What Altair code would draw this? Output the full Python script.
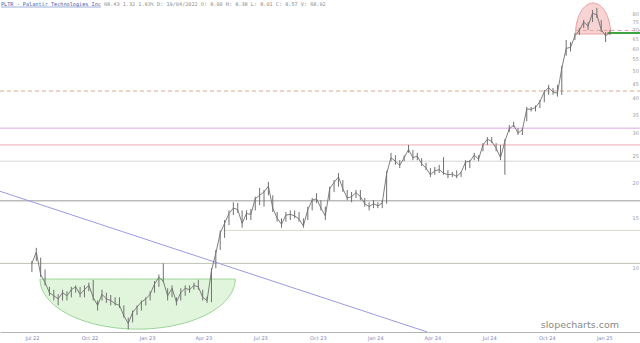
import altair as alt
import numpy as np
import pandas as pd

# ---------------- data ----------------
start_date = "2022-07-01"          # first weekly bar
n_weeks = 133

highs = [10.5, 11.7, 10.8, 9.8, 8.5, 8.3, 8.0, 8.3, 8.2, 8.5,
         8.6, 8.5, 8.6, 8.8, 9.0, 7.6, 8.3, 8.1, 7.95, 7.8,
         7.8, 7.3, 6.6, 7.0, 7.3, 7.6, 7.8, 8.2, 8.9, 9.4,
         10.3, 8.4, 8.6, 7.8, 8.4, 8.6, 8.6, 8.8, 9.0, 8.3,
         7.85, 9.9, 11.5, 13.5, 14.7, 15.9, 17.0, 16.9, 15.9, 15.9,
         16.1, 17.8, 19.1, 18.8, 20.1, 18.0, 15.7, 14.9, 15.7, 15.9,
         15.9, 15.7, 14.9, 16.4, 17.6, 18.3, 17.3, 16.4, 19.3, 20.4,
         21.6, 20.4, 18.8, 18.5, 18.8, 18.8, 17.6, 17.0, 17.3, 17.0,
         17.3, 22.0, 25.5, 25.0, 24.0, 25.0, 27.2, 26.1, 25.5, 24.4,
         23.5, 22.5, 22.7, 23.1, 24.6, 22.1, 21.8, 22.1, 21.8, 24.0,
         24.0, 25.5, 25.0, 27.6, 29.0, 29.0, 27.6, 27.2, 28.5, 32.0,
         32.9, 31.2, 31.2, 37.1, 37.1, 37.6, 39.3, 42.7, 44.5, 43.4,
         44.5, 52.0, 64.3, 63.2, 68.1, 70.9, 75.7, 74.5, 82.2, 83.6,
         75.7, 68.6, 69.8]

lows = [9.6, 10.5, 9.2, 8.6, 7.9, 7.6, 7.3, 7.6, 7.6, 7.8,
        8.1, 7.8, 7.8, 8.2, 7.6, 7.0, 7.6, 7.45, 7.3, 7.3,
        7.15, 6.6, 6.0, 6.35, 6.75, 7.0, 7.3, 7.6, 8.1, 8.5,
        8.8, 7.6, 7.8, 7.3, 7.6, 7.9, 8.1, 8.3, 8.3, 7.6,
        7.45, 7.5, 9.9, 11.5, 12.7, 14.1, 15.3, 15.6, 13.8, 14.7,
        14.7, 15.9, 16.6, 16.4, 18.0, 15.7, 14.5, 13.8, 14.5, 14.7,
        14.9, 14.5, 13.8, 14.7, 15.9, 16.9, 15.9, 14.7, 17.3, 18.5,
        19.3, 18.5, 17.3, 17.0, 17.6, 17.3, 16.4, 15.9, 16.2, 16.2,
        16.2, 16.8, 23.8, 23.1, 22.5, 23.8, 25.5, 24.0, 24.0, 22.9,
        22.1, 20.9, 21.3, 21.6, 21.3, 20.7, 20.9, 20.7, 20.9, 22.1,
        22.5, 24.0, 23.8, 25.8, 27.2, 27.6, 25.8, 24.0, 21.3, 30.2,
        31.5, 29.5, 29.5, 33.0, 35.8, 35.8, 36.8, 38.6, 41.0, 41.0,
        40.4, 41.0, 56.5, 58.5, 64.3, 67.0, 70.9, 69.8, 74.5, 77.0,
        68.6, 63.2, 67.0]

closes = [10.3, 11.3, 9.4, 8.8, 8.1, 7.9, 7.7, 8.1, 7.9, 8.3,
          8.5, 8.0, 8.3, 8.6, 7.8, 7.3, 8.0, 7.7, 7.6, 7.4,
          7.3, 6.7, 6.3, 6.9, 7.2, 7.5, 7.7, 8.0, 8.7, 9.2,
          8.9, 7.9, 8.4, 7.5, 8.1, 8.4, 8.3, 8.6, 8.5, 7.8,
          7.6, 9.7, 11.2, 13.2, 14.3, 15.5, 16.2, 16.0, 14.3, 15.5,
          15.4, 17.5, 18.0, 18.5, 19.4, 16.2, 14.9, 14.2, 15.3, 15.4,
          15.2, 14.8, 14.0, 16.0, 17.3, 17.5, 16.2, 15.2, 19.0, 20.0,
          20.9, 19.0, 17.6, 17.8, 18.4, 17.8, 16.8, 16.4, 16.8, 16.5,
          16.9, 21.5, 24.5, 23.8, 23.0, 24.5, 26.2, 24.5, 24.8, 23.3,
          22.5, 21.3, 22.0, 22.2, 21.6, 21.3, 21.4, 21.0, 21.7, 23.6,
          23.8, 25.0, 24.2, 27.2, 28.5, 28.0, 26.5, 24.5, 28.0, 31.0,
          32.0, 30.0, 30.8, 36.5, 36.4, 37.0, 38.8, 42.0, 43.5, 42.0,
          41.5, 51.0, 60.0, 60.5, 66.5, 69.5, 74.5, 72.0, 80.0, 79.0,
          70.0, 66.5, 68.4]

# x-axis ticks
tick_dates = ["2022-07-01", "2022-10-01", "2023-01-01", "2023-04-01", "2023-07-01",
              "2023-10-01", "2024-01-01", "2024-04-01", "2024-07-01", "2024-10-01",
              "2025-01-01"]
tick_labels = ["Jul 22", "Oct 22", "Jan 23", "Apr 23", "Jul 23", "Oct 23",
               "Jan 24", "Apr 24", "Jul 24", "Oct 24", "Jan 25"]
price_ticks = [10, 15, 20, 25, 30, 35, 40, 45, 50, 55, 60, 65, 70, 75, 80]

x_range_dates = ["2022-05-11", "2025-02-27"]
y_range = [5.87, 89.2]

# horizontal levels: price, start date (None = full width), colour, dashed, width
level_prices = [42.3, 31.2, 27.2, 23.8, 17.2, 13.5, 10.3, 69.5, 68.1]
level_starts = [None, None, None, None, None, "2023-05-03", None, "2024-11-16", "2025-01-06"]
level_colors = ["#d8a894", "#dcaae6", "#eeacb4", "#d6d6d6", "#9a9a9a", "#d4dccf", "#bcc2b2",
                "#e8a0a0", "#3fa33f"]
level_dashed = [True, False, False, False, False, False, False, True, False]
level_widths = [1, 1, 1, 1, 1, 1, 1, 1, 2]

# trend line (two anchor points)
trend_dates = ["2022-05-11", "2024-03-24"]
trend_prices = [18.6, 5.87]

# ellipses: left date, right date, flat-edge price, far-edge price
green_ellipse = ("2022-07-14", "2023-05-22", 9.06, 6.01)
red_ellipse = ("2024-11-16", "2025-01-11", 67.5, 87.0)

title_main = "PLTR - Palantir Technologies Inc"
title_rest = "68.43  1.32  1.93%  D: 19/04/2022  O:  8.00  H:  8.38  L:  8.01  C:  8.57  V: 68.92"
watermark = "slopecharts.com"

# ---------------- build tables ----------------
origin = pd.Timestamp(start_date)


def day(s):
    return (pd.Timestamp(s) - origin).days


weeks = pd.date_range(start_date, periods=n_weeks, freq="7D")
df = pd.DataFrame({"day": [(d - origin).days for d in weeks],
                   "high": highs, "low": lows, "close": closes})

xmin, xmax = day(x_range_dates[0]), day(x_range_dates[1])
tick_days = [day(d) for d in tick_dates]
label_expr = " : ".join(f"datum.value == {d} ? '{l}'" for d, l in zip(tick_days, tick_labels)) + " : ''"

x_scale = alt.Scale(domain=[xmin, xmax], nice=False, zero=False)
y_scale = alt.Scale(type="log", domain=y_range, nice=False)

x_axis = alt.Axis(values=tick_days, labelExpr=label_expr, ticks=False, grid=False,
                  domainColor="#b4b4b4", domainWidth=1, labelFontSize=5, labelColor="#8484b8",
                  labelPadding=3, labelFont="DejaVu Sans", title=None)
y_axis = alt.Axis(orient="right", values=price_ticks, offset=-10, domain=False, ticks=False,
                  grid=False, labelFontSize=5, labelColor="#9a9a9a", labelPadding=2,
                  labelFont="DejaVu Sans", labelAlign="left", title=None)


def ellipse_df(spec):
    left, right, flat, far = spec
    d0, d1 = day(left), day(right)
    c, a = (d0 + d1) / 2, (d1 - d0) / 2
    t = np.linspace(0, np.pi, 80)
    lf, lr = np.log(flat), np.log(far)
    return pd.DataFrame({"day": c - a * np.cos(t),
                         "p": np.exp(lf + (lr - lf) * np.sin(t)),
                         "flat": flat})


g_df = ellipse_df(green_ellipse)
r_df = ellipse_df(red_ellipse)

green = alt.Chart(g_df).mark_area(fill="#dcf3d6", fillOpacity=0.85, stroke="#9ad496",
                                  strokeWidth=1).encode(
    x=alt.X("day:Q", scale=x_scale, axis=x_axis),
    y=alt.Y("p:Q", scale=y_scale, axis=y_axis),
    y2="flat:Q")
red = alt.Chart(r_df).mark_area(fill="#f6c8c8", fillOpacity=0.8, stroke="#e69a9a",
                                strokeWidth=1).encode(
    x=alt.X("day:Q", scale=x_scale), y=alt.Y("p:Q", scale=y_scale), y2="flat:Q")

level_layers = []
for p, s, c, dsh, w in zip(level_prices, level_starts, level_colors, level_dashed, level_widths):
    ldf = pd.DataFrame({"p": [p], "d0": [day(s) if s else xmin], "d1": [xmax]})
    kw = dict(color=c, strokeWidth=w)
    if dsh:
        kw["strokeDash"] = [4, 3]
    level_layers.append(alt.Chart(ldf).mark_rule(**kw).encode(
        x=alt.X("d0:Q", scale=x_scale), x2="d1:Q", y=alt.Y("p:Q", scale=y_scale)))

tdf = pd.DataFrame({"day": [day(d) for d in trend_dates], "p": trend_prices})
trend = alt.Chart(tdf).mark_line(color="#9a9ae4", strokeWidth=1, clip=True).encode(
    x=alt.X("day:Q", scale=x_scale), y=alt.Y("p:Q", scale=y_scale))

bars = alt.Chart(df).mark_rule(color="#707070", strokeWidth=1).encode(
    x=alt.X("day:Q", scale=x_scale), y=alt.Y("low:Q", scale=y_scale), y2="high:Q")
close_line = alt.Chart(df).mark_line(color="#707070", strokeWidth=0.9).encode(
    x=alt.X("day:Q", scale=x_scale), y=alt.Y("close:Q", scale=y_scale))

t1 = alt.Chart(pd.DataFrame({"t": [title_main]})).mark_text(
    align="left", baseline="middle", fontSize=5.2, font="DejaVu Sans Mono", color="#3a5cb0").encode(
    x=alt.value(1), y=alt.value(4), text="t:N")
t1u = alt.Chart(pd.DataFrame({"t": [title_main]})).mark_rule(color="#3a5cb0", strokeWidth=0.5).encode(
    x=alt.value(1), x2=alt.value(101), y=alt.value(7))
t2 = alt.Chart(pd.DataFrame({"t": [title_rest]})).mark_text(
    align="left", baseline="middle", fontSize=5.2, font="DejaVu Sans Mono", color="#8a8a8a").encode(
    x=alt.value(104), y=alt.value(4), text="t:N")
wm = alt.Chart(pd.DataFrame({"t": [watermark]})).mark_text(
    align="right", baseline="alphabetic", fontSize=9.5, font="DejaVu Sans", color="#8a8a8a").encode(
    x=alt.value(619), y=alt.value(328), text="t:N")

chart = alt.layer(green, red, *level_layers, trend, bars, close_line, t1, t1u, t2, wm).properties(
    width=640, height=332,
    autosize=alt.AutoSizeParams(type="none"),
    padding={"left": 0, "top": 0, "right": 0, "bottom": 11},
    background="white",
).configure_view(stroke=None)

chart.save("out.html", embed_options={"renderer": "svg", "actions": False})
